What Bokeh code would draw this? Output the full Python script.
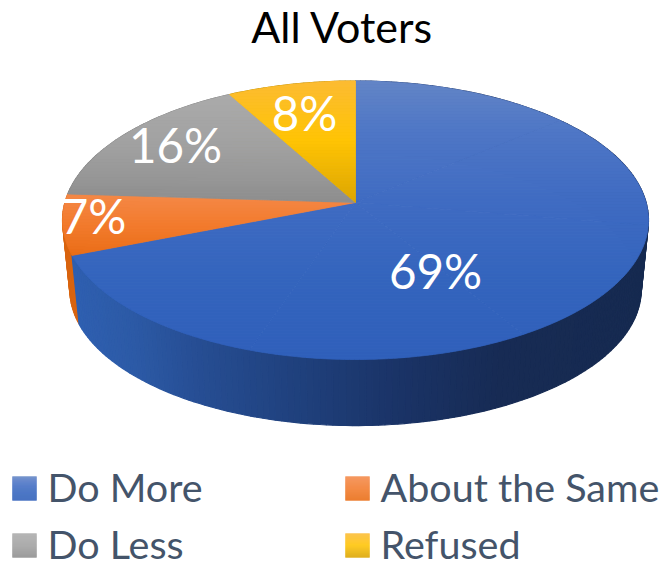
import numpy as np
from bokeh.plotting import figure
from bokeh.core.properties import value
from bokeh.embed import file_html
from bokeh.resources import INLINE

title = "All Voters"
categories = ["Do More", "About the Same", "Do Less", "Refused"]
shares = [69, 7, 16, 8]

# ---- layout and style (page pixels) ----
FONT = value("Lato")
label_xy = [(435, 270), (93, 215), (175, 144), (304, 112)]
legend_xy = [(12, 488), (345, 488), (12, 545), (345, 545)]
SW = 24
top_grad = [
    [(80, "#6385c6"), (130, "#4f77c6"), (200, "#3f6bc2"), (280, "#3364bd"), (360, "#2f5fba")],
    [(190, "#f58a4a"), (225, "#f27a2c"), (258, "#e96c14")],
    [(92, "#ababab"), (150, "#a0a0a0"), (200, "#8e8e8e")],
    [(80, "#fcbb33"), (140, "#ffc404"), (202, "#dca500")],
]
side_grad = [
    [(60, "#2f60b2"), (130, "#2c5aa6"), (200, "#264d92"), (300, "#1f407c"),
     (400, "#1a3366"), (500, "#172b54"), (650, "#162a50")],
    [(60, "#d9640f"), (90, "#d9640f")],
    [(60, "#7a7a7a"), (90, "#7a7a7a")],
    [(60, "#b08600"), (90, "#b08600")],
]

CX, CY = 355.0, 202.0
A, B, K = 290.6, 137.0, 0.1274
DEPTH, SHRINK = 70.0, 0.975


def hex2rgb(h):
    return np.array([int(h[i:i + 2], 16) for i in (1, 3, 5)], float)


def grad_color(stops, t):
    ts = [s[0] for s in stops]
    rgb = np.array([hex2rgb(s[1]) for s in stops])
    c = [np.interp(t, ts, rgb[:, i]) for i in range(3)]
    return "#%02x%02x%02x" % tuple(int(round(v)) for v in c)


def project(theta, r=1.0, lower=False):
    u, v = r * np.sin(theta), r * np.cos(theta)
    d = 1 + K * v
    s = SHRINK if lower else 1.0
    return CX + s * A * u / d, CY + (DEPTH if lower else 0.0) - s * B * v / d


def clip_band(pts, y0, y1):
    def clip(poly, inside, cross):
        out = []
        for i in range(len(poly)):
            a, b = poly[i], poly[(i + 1) % len(poly)]
            if inside(a):
                out.append(a)
            if inside(a) != inside(b):
                out.append(cross(a, b))
        return out

    def cross_at(y):
        def f(a, b):
            t = (y - a[1]) / (b[1] - a[1])
            return (a[0] + t * (b[0] - a[0]), y)
        return f

    poly = clip(pts, lambda q: q[1] >= y0, cross_at(y0))
    if poly:
        poly = clip(poly, lambda q: q[1] <= y1, cross_at(y1))
    return poly


p = figure(width=664, height=567, x_range=(0, 664), y_range=(567, 0),
           output_backend="svg", toolbar_location=None, min_border=0)
p.axis.visible = False
p.grid.visible = False
p.outline_line_color = None
p.background_fill_color = None
p.border_fill_color = None

edges = np.concatenate([[0], np.cumsum(shares)]) / np.sum(shares) * 2 * np.pi

# side wall: drawn from the back slices to the front one
xs, ys, cs = [], [], []
for i in reversed(range(len(shares))):
    n = max(int((edges[i + 1] - edges[i]) / 0.02), 2)
    th = np.linspace(edges[i], edges[i + 1], n + 1)
    for a, b in zip(th[:-1], th[1:]):
        ax, ay = project(a)
        bx, by = project(b)
        cx, cy = project(b, lower=True)
        dx, dy = project(a, lower=True)
        xs.append([ax, bx, cx, dx])
        ys.append([ay, by, cy, dy])
        cs.append(grad_color(side_grad[i], (ax + bx) / 2))
p.patches(xs, ys, fill_color=cs, line_color=cs, line_width=1.2)

# top face: each slice cut into convex pieces, then into horizontal colour bands
xs, ys, cs = [], [], []
for i in range(len(shares)):
    n_sub = int(np.ceil((edges[i + 1] - edges[i]) / (np.pi / 3)))
    subs = np.linspace(edges[i], edges[i + 1], n_sub + 1)
    for a, b in zip(subs[:-1], subs[1:]):
        th = np.linspace(a, b, 60)
        rx, ry = project(th)
        poly = [(CX, CY)] + list(zip(rx, ry))
        lo, hi = min(q[1] for q in poly), max(q[1] for q in poly)
        for y0 in np.arange(np.floor(lo / 3) * 3, hi, 3.0):
            band = clip_band(poly, y0, y0 + 3.0)
            if len(band) >= 3:
                xs.append([q[0] for q in band])
                ys.append([q[1] for q in band])
                cs.append(grad_color(top_grad[i], y0 + 1.5))
p.patches(xs, ys, fill_color=cs, line_color=cs, line_width=0.8)

# value labels
p.text([q[0] for q in label_xy], [q[1] for q in label_xy],
       text=[f"{s}%" for s in shares], text_color="#ffffff", text_font=FONT,
       text_font_size="47.5px", text_align="center", text_baseline="middle")

# title
p.text([342], [26], text=[title], text_color="#000000", text_font=FONT,
       text_font_size="43px", text_align="center", text_baseline="middle")

# legend
qx0, qx1, qy0, qy1, qc = [], [], [], [], []
for i, (lx, ly) in enumerate(legend_xy):
    stops = top_grad[i]
    lo, hi = stops[0][0], stops[-1][0]
    for k in range(SW):
        qx0.append(lx)
        qx1.append(lx + SW)
        qy0.append(ly - SW / 2 + k)
        qy1.append(ly - SW / 2 + k + 1)
        qc.append(grad_color(stops, lo + (hi - lo) * k / (SW - 1)))
p.quad(left=qx0, right=qx1, top=qy0, bottom=qy1, fill_color=qc, line_color=qc, line_width=0.3)
p.text([q[0] + 35 for q in legend_xy], [q[1] - 2 for q in legend_xy],
       text=categories, text_color="#44546a", text_font=FONT,
       text_font_size="39.5px", text_align="left", text_baseline="middle")

open("out.html", "w").write(file_html(p, INLINE))
